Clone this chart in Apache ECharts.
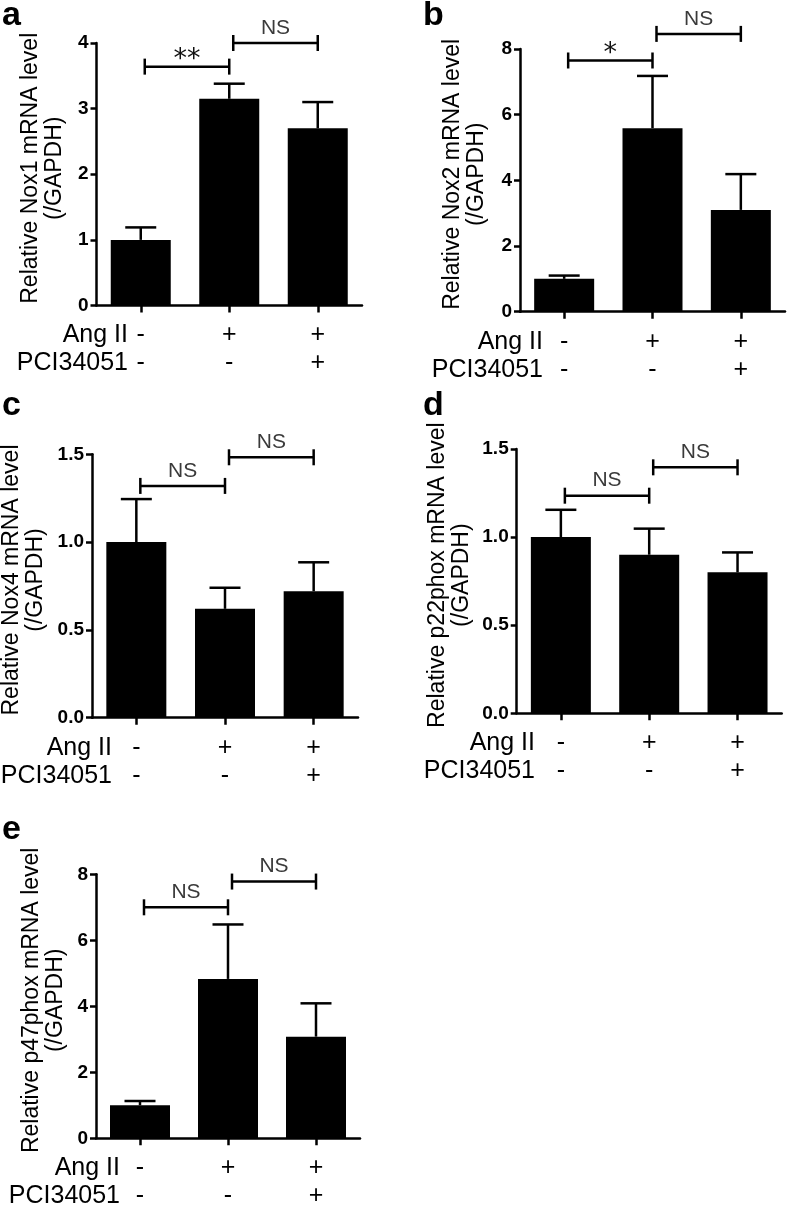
<!DOCTYPE html>
<html><head><meta charset="utf-8">
<script src="https://cdn.jsdelivr.net/npm/echarts@6/dist/echarts.min.js"></script>
<style>html,body{margin:0;padding:0;background:#fff}#c{width:787px;height:1207px}</style>
</head><body><div id="c"></div>
<script>
// ---------- data ----------
const categories = ['Control', 'Ang II', 'Ang II + PCI34051'];
const angII = ['-', '+', '+'];
const pci = ['-', '-', '+'];
const rowTitles = ['Ang II', 'PCI34051'];
const panelLetters = ['a', 'b', 'c', 'd', 'e'];
const yTitles = ['Relative Nox1 mRNA level', 'Relative Nox2 mRNA level', 'Relative Nox4 mRNA level',
                 'Relative p22phox mRNA level', 'Relative p47phox mRNA level'];
const yUnit = '(/GAPDH)';
const yMax = [4, 8, 1.5, 1.5, 8];
const yInterval = [1, 2, 0.5, 0.5, 2];
const yDecimals = [0, 0, 1, 1, 0];

const meanNox1 = [1.0, 3.15, 2.70];
const errNox1 = [0.19, 0.23, 0.40];
const meanNox2 = [1.0, 5.59, 3.10];
const errNox2 = [0.10, 1.59, 1.09];
const meanNox4 = [1.0, 0.62, 0.72];
const errNox4 = [0.245, 0.12, 0.165];
const meanP22 = [1.0, 0.90, 0.80];
const errP22 = [0.155, 0.148, 0.113];
const meanP47 = [1.0, 4.83, 3.08];
const errP47 = [0.13, 1.65, 1.01];

// significance brackets: [from category, to category, y value, label]
const sigNox1 = [[0, 1, 3.64, '**'], [1, 2, 4.0, 'NS']];
const sigNox2 = [[0, 1, 7.65, '*'], [1, 2, 8.46, 'NS']];
const sigNox4 = [[0, 1, 1.32, 'NS'], [1, 2, 1.483, 'NS']];
const sigP22 = [[0, 1, 1.235, 'NS'], [1, 2, 1.396, 'NS']];
const sigP47 = [[0, 1, 7.0, 'NS'], [1, 2, 7.78, 'NS']];

const means = [meanNox1, meanNox2, meanNox4, meanP22, meanP47];
const errs = [errNox1, errNox2, errNox4, errP22, errP47];
const sigs = [sigNox1, sigNox2, sigNox4, sigP22, sigP47];

// ---------- layout ----------
const layout = [
  {left: 96.5, top: 43, width: 265.5, height: 262.5, nameGap: 30, rowRight: 128, letter: [2, 16]},
  {left: 520, top: 49, width: 265, height: 262.7, nameGap: 31, rowRight: 543, letter: [423, 16]},
  {left: 92, top: 454.3, width: 266, height: 263.4, nameGap: 44, rowRight: 112, letter: [2, 406]},
  {left: 516.7, top: 449, width: 265, height: 264.3, nameGap: 43, rowRight: 535, letter: [423, 406]},
  {left: 96, top: 874.3, width: 264, height: 264, nameGap: 28, rowRight: 120, letter: [2, 830]}
];
const FONT = 'Liberation Sans';
const LW = 2.5;

const grids = [], xAxes = [], yAxes = [], series = [], graphics = [];
layout.forEach((L, i) => {
  grids.push({left: L.left, top: L.top, width: L.width, height: L.height,
              containLabel: false, outerBoundsMode: 'none'});
  xAxes.push({
    type: 'category', gridIndex: i, data: categories,
    axisLine: {show: true, lineStyle: {color: '#000', width: LW}},
    axisTick: {show: true, alignWithLabel: true, length: 7, lineStyle: {color: '#000', width: LW}},
    axisLabel: {
      formatter: (v, idx) => angII[idx] + '\n' + pci[idx],
      fontFamily: FONT, fontSize: 25, lineHeight: 28, margin: 16, color: '#000'
    },
    splitLine: {show: false}
  });
  yAxes.push({
    type: 'value', gridIndex: i, min: 0, max: yMax[i], interval: yInterval[i],
    name: yTitles[i] + '\n' + yUnit, nameLocation: 'middle', nameRotate: 90, nameGap: L.nameGap,
    nameTextStyle: {fontFamily: FONT, fontSize: 23, color: '#000', lineHeight: 24, padding: [0, 0, 0, 12]},
    axisLine: {show: true, lineStyle: {color: '#000', width: LW}},
    axisTick: {show: true, inside: false, length: 6, lineStyle: {color: '#000', width: LW}},
    axisLabel: {fontFamily: FONT, fontWeight: 'bold', fontSize: 19, color: '#000', margin: 8,
                formatter: v => v.toFixed(yDecimals[i])},
    splitLine: {show: false}
  });
  series.push({
    type: 'bar', xAxisIndex: i, yAxisIndex: i, data: means[i], barWidth: 60,
    itemStyle: {color: '#000'}, silent: true, z: 2
  });
  const m = means[i], e = errs[i];
  series.push({
    type: 'custom', xAxisIndex: i, yAxisIndex: i, clip: false, z: 3, silent: true,
    data: m.map((v, k) => [k, v, v + e[k]]),
    encode: {x: 0, y: [1, 2]},
    renderItem: (params, api) => {
      const x = api.value(0);
      const p0 = api.coord([x, api.value(1)]);
      const p1 = api.coord([x, api.value(2)]);
      const hw = 15.5;
      return {type: 'group', children: [
        {type: 'line', shape: {x1: p0[0], y1: p0[1], x2: p1[0], y2: p1[1]}, style: {stroke: '#000', lineWidth: LW}},
        {type: 'line', shape: {x1: p1[0] - hw, y1: p1[1], x2: p1[0] + hw, y2: p1[1]}, style: {stroke: '#000', lineWidth: LW}}
      ]};
    }
  });
  const sg = sigs[i];
  series.push({
    type: 'custom', xAxisIndex: i, yAxisIndex: i, clip: false, z: 4, silent: true,
    data: sg.map(s => [s[0], s[1], s[2]]),
    encode: {x: [0, 1], y: 2},
    renderItem: (params, api) => {
      const s = sg[params.dataIndex];
      const a = api.coord([s[0], s[2]]);
      const b = api.coord([s[1], s[2]]);
      const xl = a[0] + 4, xr = b[0], y = a[1];
      const star = s[3].indexOf('*') >= 0;
      return {type: 'group', children: [
        {type: 'line', shape: {x1: xl, y1: y, x2: xr, y2: y}, style: {stroke: '#000', lineWidth: LW}},
        {type: 'line', shape: {x1: xl, y1: y - 8, x2: xl, y2: y + 8}, style: {stroke: '#000', lineWidth: LW}},
        {type: 'line', shape: {x1: xr, y1: y - 8, x2: xr, y2: y + 8}, style: {stroke: '#000', lineWidth: LW}},
        {type: 'text', x: (xl + xr) / 2, y: star ? y - 7 : y - 15,
         style: {text: s[3], fill: star ? '#111' : '#3a3a3a',
                 font: star ? '27px "DejaVu Sans"' : '21px "Liberation Sans"',
                 align: 'center', verticalAlign: 'middle', textAlign: 'center', textVerticalAlign: 'middle'}}
      ]};
    }
  });
  const axisY = L.top + L.height;
  [30, 58].forEach((dy, r) => {
    graphics.push({type: 'text', x: L.rowRight, y: axisY + dy, silent: true,
      style: {text: rowTitles[r], fill: '#000', font: '25px "Liberation Sans"',
              align: 'right', verticalAlign: 'middle', textAlign: 'right', textVerticalAlign: 'middle'}});
  });
  graphics.push({type: 'text', x: L.letter[0], y: L.letter[1], silent: true,
    style: {text: panelLetters[i], fill: '#000', font: 'bold 34px "Liberation Sans"',
            align: 'left', verticalAlign: 'middle', textAlign: 'left', textVerticalAlign: 'middle'}});
});

const chart = echarts.init(document.getElementById('c'), null, {renderer: 'canvas'});
chart.setOption({
  backgroundColor: '#fff',
  animation: false,
  grid: grids, xAxis: xAxes, yAxis: yAxes, series: series, graphic: graphics
});
</script></body></html>
